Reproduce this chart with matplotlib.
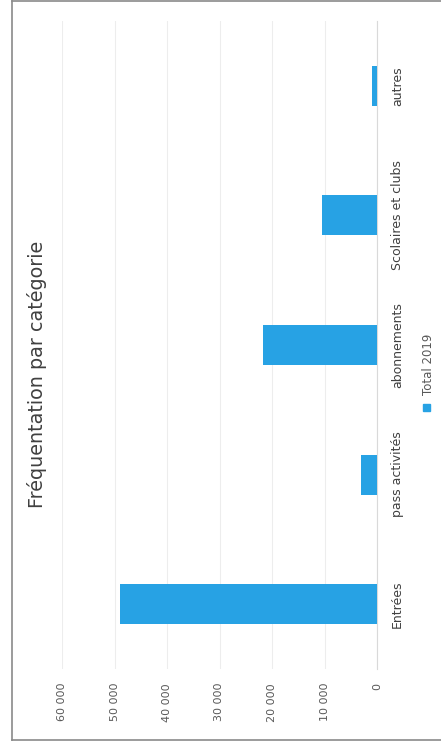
import matplotlib
matplotlib.use("Agg")
import matplotlib.pyplot as plt
from matplotlib.patches import Rectangle
from matplotlib.lines import Line2D

categories = ["Entrées", "pass activités", "abonnements", "Scolaires et clubs", "autres"]
values = [49000, 3000, 21700, 10500, 900]
series_name = "Total 2019"
title = "Fréquentation par catégorie"
xticks = [0, 10000, 20000, 30000, 40000, 50000, 60000]

W, H = 441, 747
fig = plt.figure(figsize=(W / 100, H / 100), dpi=100)
fig.patch.set_facecolor("white")

def fx(px):
    return px / W

def fy(py):
    return 1 - py / H

bar_color = "#27a2e4"
ax = fig.add_axes([fx(62), fy(669), (377 - 62) / W, (669 - 21) / H])
ypos = list(range(len(categories)))
ax.barh(ypos, values, height=0.31, color=bar_color, zorder=3)
ax.set_xlim(60000, 0)
ax.set_ylim(-0.5, len(categories) - 0.5)

ax.set_xticks(xticks)
ax.set_xticklabels([f"{v:,}".replace(",", " ") for v in xticks], rotation=90,
                   va="top", ha="center", fontsize=8, color="#595959")
ax.tick_params(axis="x", length=0, pad=10)
ax.xaxis.grid(True, color="#ededed", lw=0.8, zorder=0)

ax.yaxis.tick_right()
ax.set_yticks(ypos)
ax.set_yticklabels(categories, rotation=90, va="center", ha="left",
                   fontsize=9, color="#404040")
ax.tick_params(axis="y", length=0, pad=10)

for s in ["top", "bottom", "left"]:
    ax.spines[s].set_visible(False)
ax.spines["right"].set_color("#d9d9d9")
ax.spines["right"].set_linewidth(0.8)

fig.text(fx(37), fy(374), title, rotation=90, ha="center", va="center",
         fontsize=13.8, color="#404040")

# legend (rotated)
fig.patches.append(Rectangle((fx(423), fy(411)), 7 / W, 7 / H,
                             transform=fig.transFigure, color=bar_color, figure=fig))
fig.text(fx(428), fy(364), series_name, rotation=90, ha="center", va="center",
         fontsize=8.5, color="#595959")

# outer chart border
for xs, ys in [([12, 12], [1, 740]), ([12, 441], [1, 1]), ([12, 441], [740, 740])]:
    fig.lines.append(Line2D([fx(x) for x in xs], [fy(y) for y in ys],
                            transform=fig.transFigure, color="#8a8a8a", lw=1.2, figure=fig))

fig.savefig("out.png", dpi=100)
